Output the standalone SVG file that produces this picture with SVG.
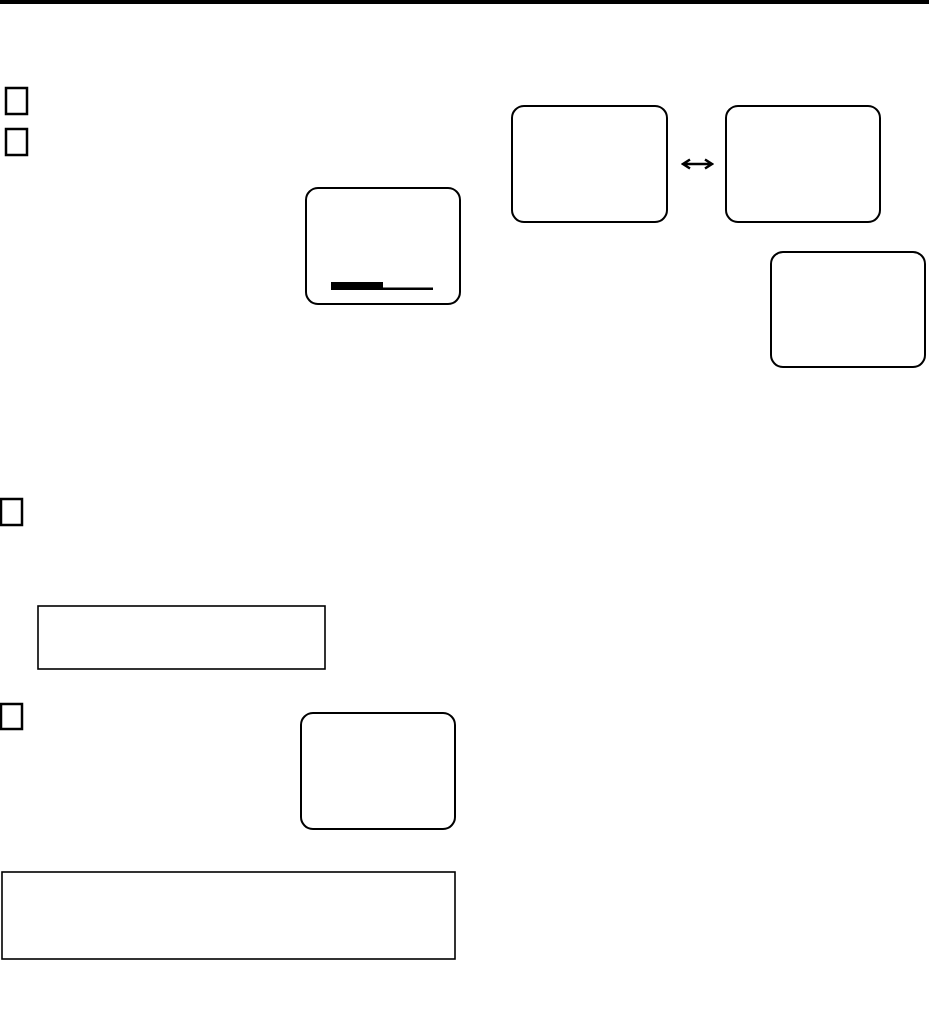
<svg xmlns="http://www.w3.org/2000/svg" width="929" height="1024" viewBox="0 0 929 1024">
<style>
.chk{fill:none;stroke:#000;stroke-width:2.5}
.scr{fill:#fff;stroke:#000;stroke-width:2}
.box{fill:#fff;stroke:#000;stroke-width:1.6}
.con{fill:none;stroke:#000;stroke-width:2.5}
</style>
<rect x="0" y="0" width="929" height="4" fill="#000"/>
<g id="check1"><rect class="chk" x="6" y="88" width="21" height="26"/></g>
<g id="check2"><rect class="chk" x="6" y="129" width="21" height="26"/></g>
<g id="screen1">
<rect class="scr" x="306" y="188" width="154" height="116" rx="12"/>
<rect x="331" y="282" width="52" height="8" fill="#000"/>
<rect x="383" y="287.5" width="50" height="2.5" fill="#000"/>
</g>
<g id="screen2"><rect class="scr" x="512" y="106" width="155" height="116" rx="12"/></g>
<g id="screen3"><rect class="scr" x="726" y="106" width="154" height="116" rx="12"/></g>
<g id="screen4"><rect class="scr" x="771" y="252" width="154" height="115" rx="12"/></g>
<g id="check3"><rect class="chk" x="1" y="499" width="21" height="26"/></g>
<g id="note1"><rect class="box" x="38" y="606" width="287" height="63"/></g>
<g id="check4"><rect class="chk" x="1" y="704" width="21" height="25"/></g>
<g id="screen5"><rect class="scr" x="301" y="713" width="154" height="116" rx="12"/></g>
<g id="note2"><rect class="box" x="2" y="872" width="453" height="87"/></g>
<g id="connectors">
<path class="con" d="M683 164H712M690 159.5L683 164L690 168.5M705 159.5L712 164L705 168.5"/>
</g>
</svg>
